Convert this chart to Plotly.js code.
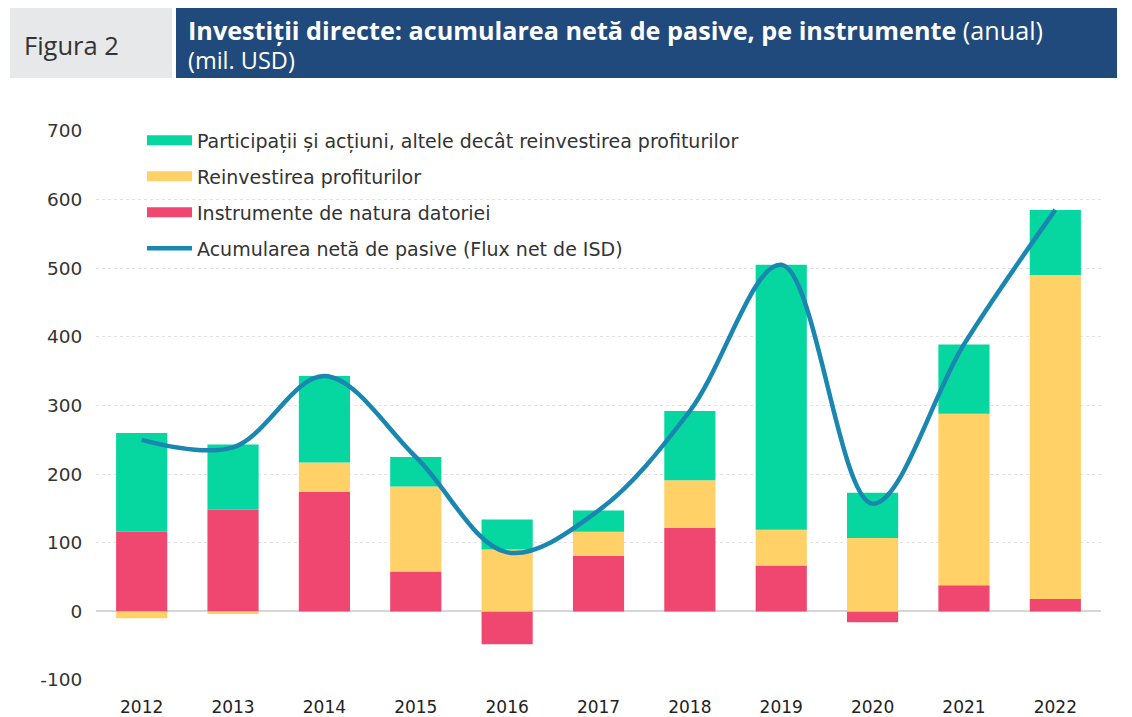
<!DOCTYPE html>
<html>
<head>
<meta charset="utf-8">
<script src="https://cdn.plot.ly/plotly-3.0.1.min.js"></script>
<style>html,body{margin:0;padding:0;background:#fff;}#chart{width:1132px;height:717px;}</style>
</head>
<body>
<div id="chart"></div>
<script>
const years = ['2012','2013','2014','2015','2016','2017','2018','2019','2020','2021','2022'];
const debtInstruments = [116, 148, 174, 58, -48, 81, 122, 67, -16, 38, 18];
const reinvestedEarnings = [-10, -4, 43, 124, 90, 35, 69, 52, 107, 250, 472];
const equityOther = [144, 95, 126, 43, 44, 31, 101, 386, 66, 101, 95];
const netLiabilities = [250, 239, 343, 225, 86, 147, 292, 505, 157, 389, 585];
const yTicks = [-100, 0, 100, 200, 300, 400, 500, 600, 700];
const yTickLabels = ['-100', '0', '100', '200', '300', '400', '500', '600', '700'];

const names = {
  equity: 'Participații și acțiuni, altele decât reinvestirea profiturilor',
  reinv: 'Reinvestirea profiturilor',
  debt: 'Instrumente de natura datoriei',
  net: 'Acumularea netă de pasive (Flux net de ISD)'
};
const colors = {equity:'#06D6A0', reinv:'#FFD166', debt:'#EF476F', net:'#1A87B1'};

const W = 1132, H = 717, L = 96, R = 31, T = 131, B = 37;
const PW = W - L - R, PH = H - T - B;
const px = v => (v - L) / PW;
const py = v => (H - B - v) / PH;

const FONT = 'DejaVu Sans, Verdana, sans-serif';
const HFONT = 'Open Sans, sans-serif';

const barCommon = {type:'bar', x: years, showlegend:false, hoverinfo:'y+name'};
const traces = [
  Object.assign({}, barCommon, {name:names.debt, y: debtInstruments, marker:{color:colors.debt, line:{width:0}}}),
  Object.assign({}, barCommon, {name:names.reinv, y: reinvestedEarnings, marker:{color:colors.reinv, line:{width:0}}}),
  Object.assign({}, barCommon, {name:names.equity, y: equityOther, marker:{color:colors.equity, line:{width:0}}}),
  {type:'scatter', mode:'lines', x: years, y: netLiabilities, name:names.net, showlegend:false,
   line:{color:colors.net, width:4.5, shape:'spline', smoothing:1}},
  // legend entries
  {type:'scatter', mode:'lines', x:[null], y:[null], name:names.equity, legendgroup:'a', line:{color:colors.equity, width:13}},
  {type:'scatter', mode:'lines', x:[null], y:[null], name:names.reinv, legendgroup:'b', line:{color:colors.reinv, width:13}},
  {type:'scatter', mode:'lines', x:[null], y:[null], name:names.debt, legendgroup:'c', line:{color:colors.debt, width:13}},
  {type:'scatter', mode:'lines', x:[null], y:[null], name:names.net, legendgroup:'d', line:{color:colors.net, width:4.5}}
];

const layout = {
  width: W, height: H,
  margin: {l:L, r:R, t:T, b:B},
  paper_bgcolor:'#fff', plot_bgcolor:'#fff',
  barmode:'relative', bargap:0.44,
  font:{family:FONT, size:17, color:'#333'},
  xaxis:{type:'category', showgrid:false, zeroline:false, showline:false,
         ticks:'outside', ticklen:12, tickcolor:'rgba(0,0,0,0)',
         tickfont:{family:FONT, size:17, color:'#222'}},
  yaxis:{range:[-100,700], tickvals:yTicks, ticktext:yTickLabels,
         showgrid:true, gridcolor:'#e2e2e2', griddash:'dot', gridwidth:1,
         zeroline:true, zerolinecolor:'#d6d6d6', zerolinewidth:2, showline:false,
         ticks:'outside', ticklen:9, tickcolor:'rgba(0,0,0,0)', tickfont:{family:FONT, size:18.5, color:'#333'}},
  showlegend:true,
  legend:{x:px(142), y:py(121.5), xanchor:'left', yanchor:'top', bgcolor:'rgba(0,0,0,0)',
          traceorder:'grouped', tracegroupgap:8.3, itemwidth:45,
          font:{size:19, color:'#333', family:FONT}},
  shapes:[
    {type:'rect', xref:'paper', yref:'paper', x0:px(10), x1:px(172), y0:py(8), y1:py(78), fillcolor:'#E7E8EA', line:{width:0}, layer:'below'},
    {type:'rect', xref:'paper', yref:'paper', x0:px(176), x1:px(1117), y0:py(8), y1:py(78), fillcolor:'#20497C', line:{width:0}, layer:'below'}
  ],
  annotations:[
    {xref:'paper', yref:'paper', x:px(22), y:py(45), xanchor:'left', yanchor:'middle', showarrow:false,
     text:'Figura 2', font:{family:HFONT, size:25.5, color:'#333'}},
    {xref:'paper', yref:'paper', x:px(186), y:py(30), xanchor:'left', yanchor:'middle', showarrow:false,
     text:'<b>Investiții directe: acumularea netă de pasive, pe instrumente</b> (anual)', font:{family:HFONT, size:25.2, color:'#fff'}},
    {xref:'paper', yref:'paper', x:px(186), y:py(60), xanchor:'left', yanchor:'middle', showarrow:false,
     text:'(mil. USD)', font:{family:HFONT, size:23.5, color:'#fff'}}
  ]
};

Plotly.newPlot('chart', traces, layout, {displayModeBar:false, staticPlot:true});
</script>
</body>
</html>
